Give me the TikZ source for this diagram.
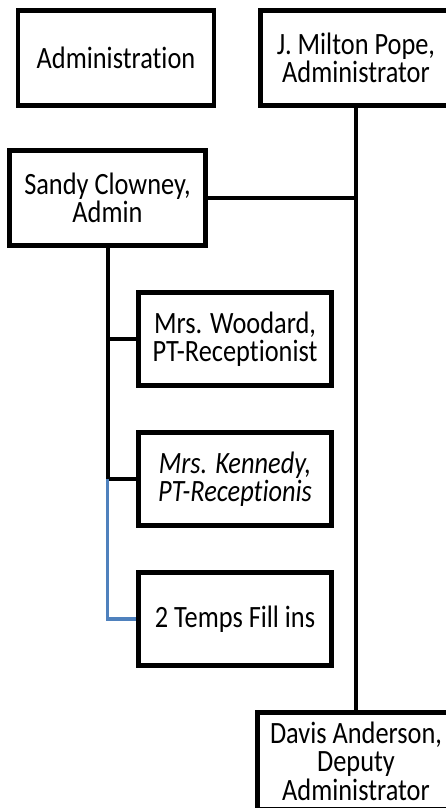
\documentclass[tikz,border=0pt]{standalone}
\usepackage{fontspec}
\setmainfont{Carlito}[FakeStretch=0.85, Ligatures=NoCommon]
\usepackage{tikz}

\definecolor{tempblue}{RGB}{79,129,189}

\tikzset{
  staff/.style={draw, line width=4.5pt, rectangle, inner sep=0pt, align=center,
    minimum width=193pt, minimum height=93pt,
    font=\fontsize{31}{28.5}\selectfont},
  link/.style={line width=4pt},
  branch/.style={line width=3.5pt}
}

\begin{document}
\begin{tikzpicture}[x=1pt, y=-1pt]
    \useasboundingbox (0,0) rectangle (446,808);
    \fill[white] (0,0) rectangle (446,808);
    \clip (0,0) rectangle (446,808);

    % Define nodes
    \node[staff, minimum width=196pt, minimum height=95pt] at (116, 58) (administration) {Administration};
    \node[staff, minimum width=191pt, minimum height=95pt] at (356, 58) (pope) {J. Milton Pope,\\Administrator};
    \node[staff, minimum width=196pt, minimum height=95pt] at (107.5, 198) (sandy) {Sandy Clowney,\\Admin};
    \node[staff] at (235, 339) (woodard) {Mrs. Woodard,\\PT-Receptionist};
    \node[staff, font=\fontsize{31}{28.5}\selectfont\itshape] at (235, 479) (kennedy) {Mrs. Kennedy,\\PT-Receptionis};
    \node[staff] at (235, 619) (temps) {2 Temps Fill ins};
    \node[staff, minimum width=197pt, minimum height=97pt] at (356, 761) (davis) {Davis Anderson,\\Deputy\\Administrator};

    \coordinate (kennedy join) at (sandy.south |- kennedy.west);

    % Draw lines
    \draw[link] (pope.south) -- (davis.north);
    \draw[link] (sandy.east) -- (sandy.east -| pope.south);
    \draw[link] (sandy.south) -- (kennedy join);
    \draw[branch] (sandy.south |- woodard.west) -- (woodard.west);
    \draw[branch] (kennedy join) -- (kennedy.west);
    \draw[branch, tempblue] (kennedy join) |- (temps.west);
\end{tikzpicture}
\end{document}
